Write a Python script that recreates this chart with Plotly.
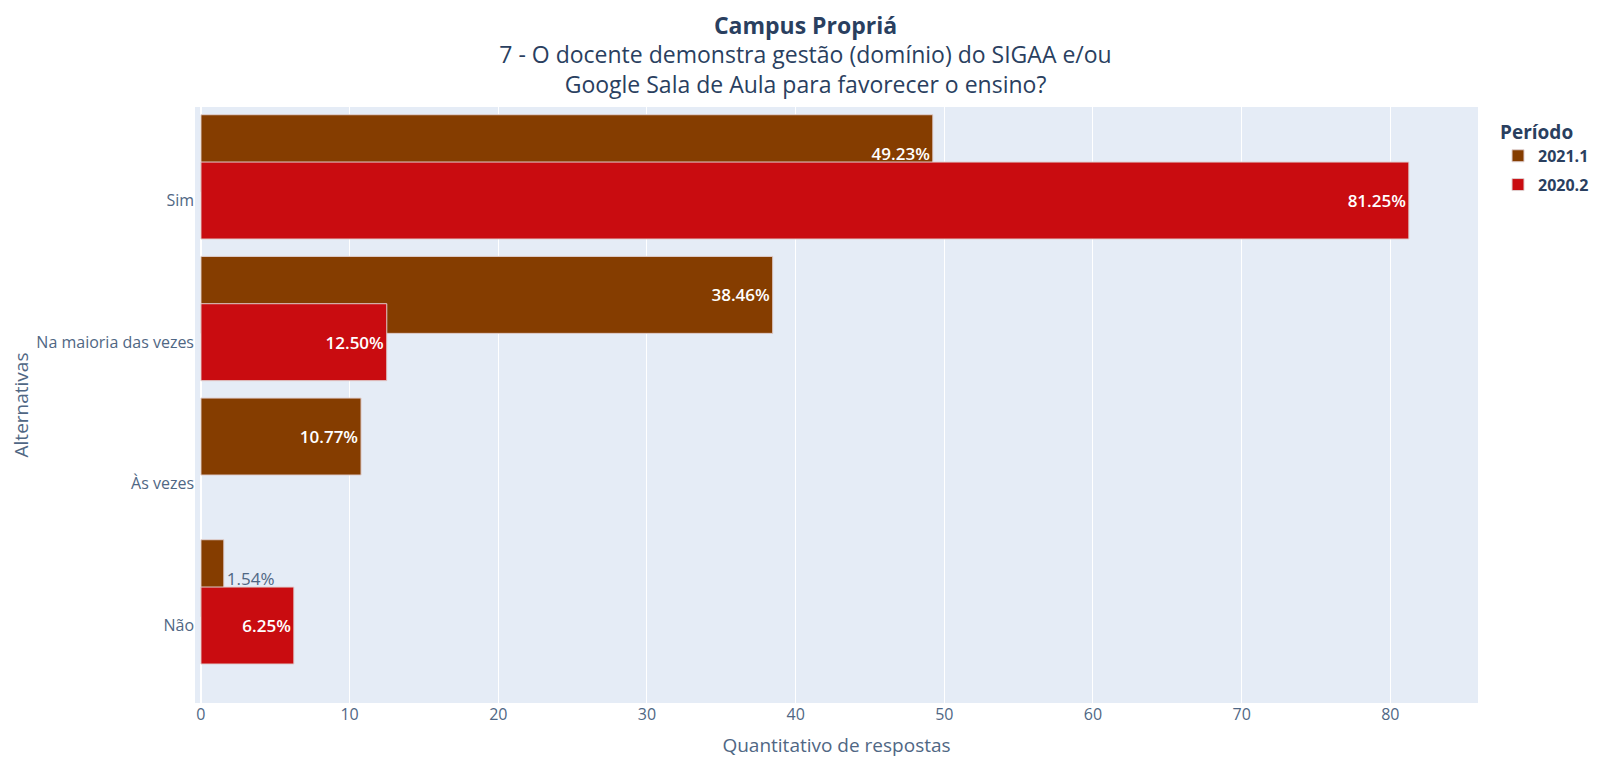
import plotly.graph_objects as go

categories = ["Não", "Às vezes", "Na maioria das vezes", "Sim"]
periods = ["2021.1", "2020.2"]
values_2021_1 = [1.54, 10.77, 38.46, 49.23]
cats_2020_2 = ["Não", "Na maioria das vezes", "Sim"]
values_2020_2 = [6.25, 12.50, 81.25]
colors = {"2021.1": "#853D00", "2020.2": "#C90C10"}

fig = go.Figure()
fig.add_trace(go.Bar(
    y=categories, x=values_2021_1, name=periods[0], orientation="h",
    legendgroup="a",
    marker=dict(color=colors["2021.1"], line=dict(color="#E0D0D0", width=1)),
    width=0.5435, offset=0.062,
    text=[f"{v:.2f}%" for v in values_2021_1], textposition="auto",
    insidetextfont=dict(color="white", size=17, weight=600),
    outsidetextfont=dict(color="#506784", size=17),
))
fig.add_trace(go.Bar(
    y=cats_2020_2, x=values_2020_2, name=periods[1], orientation="h",
    legendgroup="b",
    marker=dict(color=colors["2020.2"], line=dict(color="#E0D0D0", width=1)),
    width=0.5435, offset=-0.272,
    text=[f"{v:.2f}%" for v in values_2020_2], textposition="auto",
    insidetextfont=dict(color="white", size=17, weight=600),
    outsidetextfont=dict(color="#506784", size=17),
))

fig.update_layout(
    template="plotly",
    width=1595, height=750,
    barmode="overlay",
    font=dict(family="Open Sans", size=16, color="#506784"),
    title=dict(
        text="<b>Campus Propriá</b><br>7 - O docente demonstra gestão (domínio) do SIGAA e/ou<br>Google Sala de Aula para favorecer o ensino?",
        x=0.5, xanchor="center", y=0.966, yanchor="middle",
        font=dict(size=23, color="#2a3f5f"),
    ),
    margin=dict(l=187, r=125, t=99, b=55, autoexpand=False),
    legend=dict(title=dict(text="<b>Período</b>", font=dict(size=19, color="#2a3f5f")),
                font=dict(size=16, color="#2a3f5f", weight="bold"),
                tracegroupgap=5, x=1.0156, xanchor="left", y=0.988, yanchor="top"),
    xaxis=dict(range=[-0.4, 85.9], title=dict(text="Quantitativo de respostas", font=dict(size=19)),
               tickfont=dict(size=16), automargin=False),
    yaxis=dict(range=[-0.547, 3.66], categoryorder="array", categoryarray=categories,
               title=dict(text="Alternativas", font=dict(size=19), standoff=20),
               tickfont=dict(size=16), automargin=True),
)

fig.write_html("out.html")
